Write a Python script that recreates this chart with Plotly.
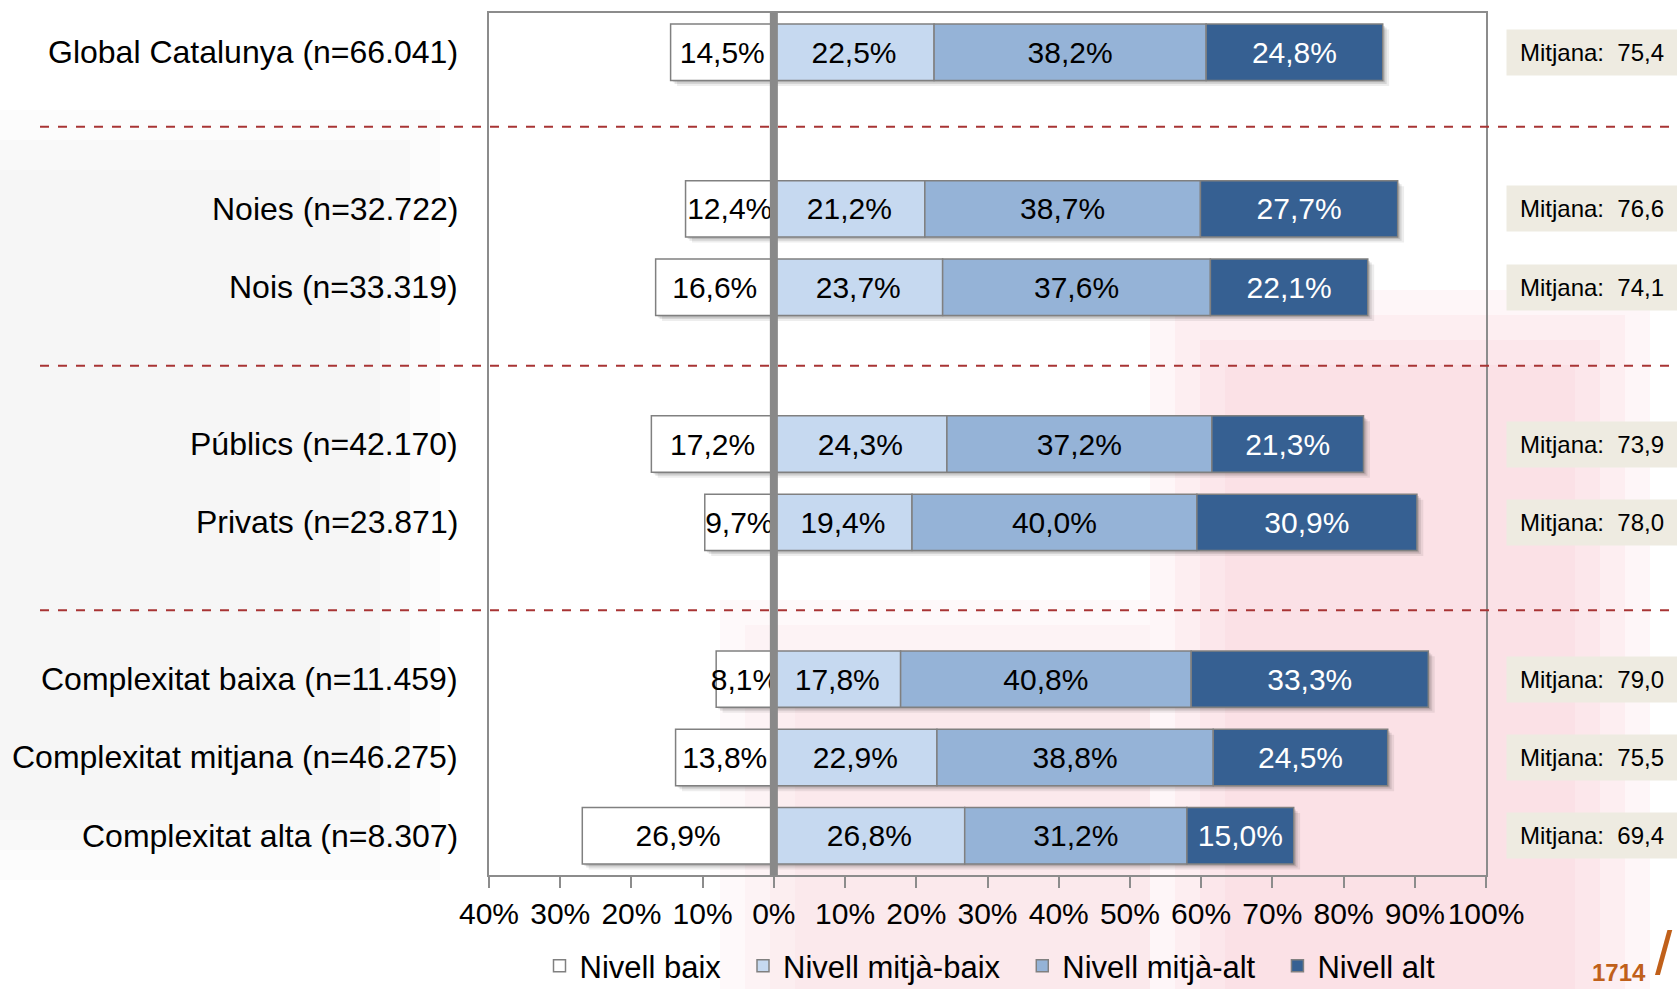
import plotly.graph_objects as go

# ---- data ----
categories = [
    "Global Catalunya (n=66.041)",
    "Noies (n=32.722)",
    "Nois (n=33.319)",
    "Públics (n=42.170)",
    "Privats (n=23.871)",
    "Complexitat baixa (n=11.459)",
    "Complexitat mitjana (n=46.275)",
    "Complexitat alta (n=8.307)",
]
slots = [0, 2, 3, 5, 6, 8, 9, 10]  # row positions (empty rows between groups)
nivell_baix = [14.5, 12.4, 16.6, 17.2, 9.7, 8.1, 13.8, 26.9]
nivell_mitja_baix = [22.5, 21.2, 23.7, 24.3, 19.4, 17.8, 22.9, 26.8]
nivell_mitja_alt = [38.2, 38.7, 37.6, 37.2, 40.0, 40.8, 38.8, 31.2]
nivell_alt = [24.8, 27.7, 22.1, 21.3, 30.9, 33.3, 24.5, 15.0]
mitjana = ["75,4", "76,6", "74,1", "73,9", "78,0", "79,0", "75,5", "69,4"]
separators = [0.95, 4.0, 7.12]
tick_vals = [-40, -30, -20, -10, 0, 10, 20, 30, 40, 50, 60, 70, 80, 90, 100]
tick_text = ["40%", "30%", "20%", "10%", "0%", "10%", "20%", "30%", "40%",
             "50%", "60%", "70%", "80%", "90%", "100%"]
legend_names = ["Nivell baix", "Nivell mitjà-baix", "Nivell mitjà-alt", "Nivell alt"]

FONT = "Liberation Sans, Arial, sans-serif"
W, H = 1677, 989
L, R, T, B = 489, 191, 13, 114
pw = W - L - R
ph = H - T - B
BW = 0.72


def fmt(v):
    return f"{v:.1f}".replace(".", ",") + "%"


def px_x(x):  # pixel -> paper x
    return (x - L) / pw


def px_y(y):  # pixel -> paper y
    return 1 - (y - T) / ph


fig = go.Figure()

# cumulative bases computed from the data
base_baix = [-v for v in nivell_baix]
base_mb = [0] * len(slots)
base_ma = list(nivell_mitja_baix)
base_alt = [a + b for a, b in zip(nivell_mitja_baix, nivell_mitja_alt)]
totals = [a + b + c + d for a, b, c, d in zip(nivell_baix, nivell_mitja_baix, nivell_mitja_alt, nivell_alt)]

# soft drop shadows
for dx, dy, alpha in [(0.9, 0.07, 0.07), (0.55, 0.045, 0.10), (0.3, 0.025, 0.12)]:
    fig.add_trace(go.Bar(
        y=slots, x=totals, base=[b + dx for b in base_baix], orientation="h",
        width=BW, offset=-BW / 2 + dy, marker=dict(color=f"rgba(0,0,0,{alpha})", line=dict(width=0)),
        showlegend=False, hoverinfo="skip",
    ))

series = [
    (legend_names[0], nivell_baix, base_baix, "#FFFFFF", "black"),
    (legend_names[1], nivell_mitja_baix, base_mb, "#C6D9F0", "black"),
    (legend_names[2], nivell_mitja_alt, base_ma, "#95B3D7", "black"),
    (legend_names[3], nivell_alt, base_alt, "#366092", "white"),
]
for i, (name, vals, base, col, tcol) in enumerate(series):
    label = name + ("\u00a0\u00a0" if i < len(series) - 1 else "")
    fig.add_trace(go.Bar(
        name=label, y=slots, x=vals, base=base, orientation="h", width=BW,
        marker=dict(color=col, line=dict(color="#808080", width=1.5)),
        text=[fmt(v) for v in vals], textposition="inside",
        insidetextanchor="middle", textangle=0, constraintext="none",
        textfont=dict(family=FONT, size=30, color=tcol),
        hoverinfo="skip",
    ))

shapes = []
# soft watermark-like background tint (layered for soft edges)
for k in range(4):
    d = k * 25
    shapes.append(dict(type="rect", xref="paper", yref="paper", layer="below",
                       x0=px_x(1150 + d), x1=px_x(1650 - d), y0=px_y(H), y1=px_y(290 + d),
                       fillcolor="rgba(244,185,195,0.12)", line=dict(width=0)))
    shapes.append(dict(type="rect", xref="paper", yref="paper", layer="below",
                       x0=px_x(720 + d), x1=px_x(1150), y0=px_y(H), y1=px_y(600 + d),
                       fillcolor="rgba(244,185,195,0.09)", line=dict(width=0)))
for k in range(3):
    d = k * 30
    shapes.append(dict(type="rect", xref="paper", yref="paper", layer="below",
                       x0=px_x(0), x1=px_x(440 - d), y0=px_y(880 - d), y1=px_y(110 + d),
                       fillcolor="rgba(210,210,210,0.07)", line=dict(width=0)))
for s in separators:
    shapes.append(dict(type="line", xref="paper", yref="y",
                       x0=px_x(40), x1=px_x(W), y0=s, y1=s,
                       line=dict(color="#A83434", width=2, dash="dash"), layer="above"))
# thick zero line
shapes.append(dict(type="line", xref="x", yref="paper", x0=0, x1=0, y0=0, y1=1,
                   line=dict(color="#898989", width=8), layer="above"))

annotations = []
for cat, s in zip(categories, slots):
    annotations.append(dict(text=cat, xref="paper", yref="y", x=px_x(460), y=s,
                            xanchor="right", yanchor="middle", showarrow=False,
                            font=dict(family=FONT, size=32, color="black")))
for m, s in zip(mitjana, slots):
    annotations.append(dict(text=f"Mitjana:  {m}", xref="paper", yref="y",
                            x=px_x(1592), y=s, xanchor="center", yanchor="middle",
                            showarrow=False, bgcolor="#EEEBE1", borderpad=6,
                            width=158, height=33,
                            font=dict(family=FONT, size=24, color="black")))
annotations.append(dict(text="<b>1714</b>", xref="paper", yref="paper",
                        x=px_x(1648), y=px_y(972), xanchor="right", yanchor="middle",
                        showarrow=False, font=dict(family=FONT, size=24, color="#C0601A")))
annotations.append(dict(text="/", xref="paper", yref="paper",
                        x=px_x(1664), y=px_y(952), xanchor="center", yanchor="middle",
                        showarrow=False, font=dict(family=FONT, size=62, color="#C0601A")))

fig.update_layout(
    width=W, height=H,
    margin=dict(l=L, r=R, t=T, b=B, autoexpand=False),
    barmode="overlay",
    paper_bgcolor="white", plot_bgcolor="rgba(0,0,0,0)",
    showlegend=True,
    legend=dict(orientation="h", xref="container", yref="container",
                x=990 / W, xanchor="center", y=1 - 966 / H, yanchor="middle",
                font=dict(family=FONT, size=31, color="black"),
                bgcolor="rgba(0,0,0,0)", itemclick=False, itemdoubleclick=False),
    shapes=shapes, annotations=annotations,
    xaxis=dict(range=[-40, 100], tickvals=tick_vals, ticktext=tick_text,
               showgrid=False, zeroline=False, showline=True, mirror=True,
               linecolor="#8C8C8C", linewidth=1.5, ticks="outside", ticklen=11,
               tickcolor="#8C8C8C", tickwidth=1.5, ticklabelstandoff=0,
               tickfont=dict(family=FONT, size=30, color="black"), fixedrange=True),
    yaxis=dict(range=[10.5, -0.5], showgrid=False, zeroline=False, showline=True,
               mirror=True, linecolor="#8C8C8C", linewidth=1.5, showticklabels=False,
               ticks="", fixedrange=True),
    font=dict(family=FONT),
)

fig.write_html(
    "out.html",
    config={"displayModeBar": False},
    post_script="document.body.style.margin='0';document.body.style.overflow='hidden';",
)
